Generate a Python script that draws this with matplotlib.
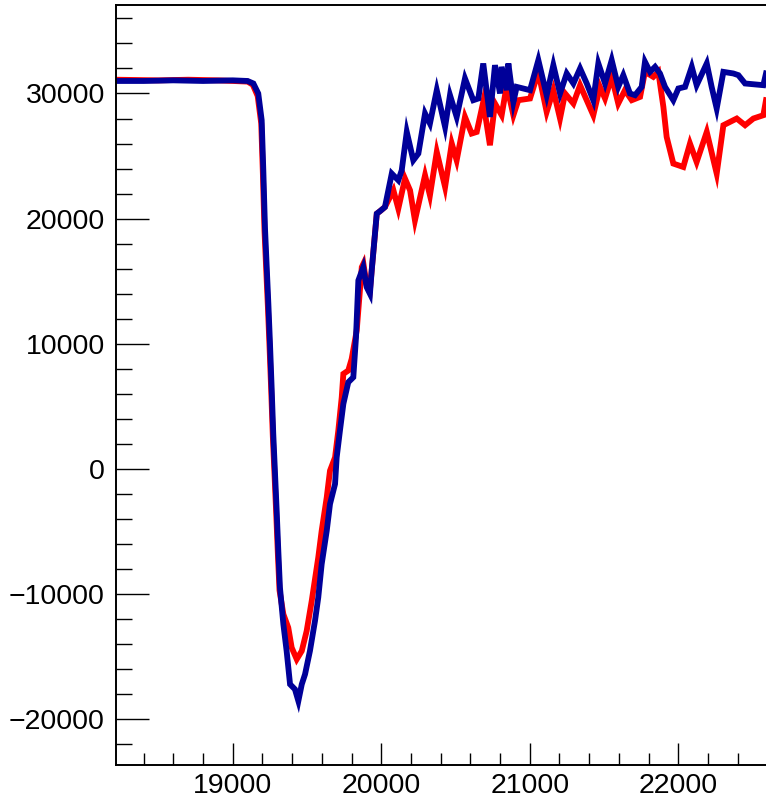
import numpy as np
import matplotlib.pyplot as plt
from matplotlib.ticker import MultipleLocator

plt.rcParams['font.family'] = ['Liberation Sans', 'DejaVu Sans']

# blue trace
x_blue = [18214, 18400, 18600, 18800, 19000, 19100, 19139, 19172, 19195, 19206, 19217, 19229,
          19240, 19251, 19262, 19273, 19285, 19296, 19307, 19318, 19341, 19363, 19386, 19419,
          19442, 19465, 19487, 19520, 19554, 19576, 19599, 19633, 19655, 19689, 19700, 19722,
          19745, 19778, 19812, 19830, 19846, 19879, 19902, 19924, 19936, 19958, 19970, 19992,
          20025, 20071, 20115, 20138, 20172, 20216, 20250, 20295, 20328, 20374, 20430, 20463,
          20508, 20564, 20620, 20654, 20687, 20732, 20766, 20800, 20811, 20845, 20856, 20890,
          20912, 21002, 21058, 21114, 21159, 21204, 21249, 21294, 21339, 21384, 21428, 21462,
          21507, 21552, 21596, 21630, 21675, 21709, 21754, 21776, 21810, 21844, 21877, 21911,
          21967, 22001, 22046, 22091, 22124, 22192, 22225, 22259, 22304, 22371, 22405, 22450,
          22573, 22591]
y_blue = [31000, 31000, 31050, 31000, 31050, 31000, 30800, 30000, 27864, 23864, 19328, 16128,
          13200, 10000, 6528, 2800, -400, -3336, -6536, -9472, -12400, -14536, -17200, -17600,
          -18536, -17200, -16400, -14536, -12136, -10272, -7600, -4936, -2800, -1200, 928, 3064,
          5200, 6928, 7328, 10500, 15064, 16128, 14528, 14000, 15864, 18800, 20400, 20600,
          20928, 23600, 23064, 23864, 26928, 24664, 25200, 28400, 27600, 30264, 27328, 29864,
          28128, 31200, 29464, 29600, 32400, 28128, 32264, 30000, 32128, 30264, 32400, 29328,
          30528, 30264, 32664, 29864, 32264, 30000, 31600, 30800, 32000, 30800, 29464, 32400,
          30800, 32664, 30528, 31464, 30000, 29864, 30528, 32528, 31728, 32128, 31600, 30528,
          29464, 30400, 30528, 32128, 30664, 32400, 30528, 28800, 31728, 31600, 31464, 30800,
          30664, 31600]

# red trace
x_red = [18214, 18500, 18700, 18900, 19100, 19135, 19168, 19192, 19203, 19214, 19226,
         19237, 19248, 19259, 19270, 19282, 19293, 19304, 19315, 19341, 19374, 19397, 19431,
         19465, 19498, 19532, 19576, 19599, 19633, 19655, 19689, 19711, 19734, 19745, 19778,
         19801, 19835, 19869, 19880, 19902, 19924, 19936, 19958, 19970, 19992, 20025, 20082,
         20115, 20160, 20194, 20227, 20295, 20328, 20374, 20430, 20475, 20508, 20564, 20609,
         20643, 20687, 20732, 20766, 20811, 20845, 20890, 20923, 21002, 21058, 21114, 21159,
         21204, 21238, 21294, 21339, 21428, 21473, 21507, 21552, 21596, 21641, 21687, 21743,
         21776, 21832, 21866, 21900, 21922, 21967, 22034, 22079, 22124, 22192, 22259, 22304,
         22394, 22450, 22506, 22573, 22591]
y_red = [31100, 31050, 31100, 31050, 30950, 30700, 29800, 27600, 23600, 19000, 15800,
         12900, 9700, 6300, 2600, -600, -3600, -6800, -9700, -11600, -12672, -14272, -15200,
         -14536, -12936, -10536, -7072, -4936, -2272, -136, 928, 3064, 5728, 7600, 7864,
         8800, 11064, 16128, 16400, 14700, 14300, 15900, 18800, 20400, 20600, 20928, 22264,
         20800, 23200, 22264, 19864, 23464, 21864, 25328, 22528, 26000, 24664, 28128, 26800,
         26928, 29328, 25864, 29200, 28264, 30664, 28264, 29464, 29600, 31728, 28528, 30264,
         28000, 30000, 29200, 30664, 28264, 30528, 29600, 31328, 29200, 30264, 29464, 29728,
         31728, 31328, 31728, 28928, 26528, 24400, 24128, 26000, 24528, 26928, 23600, 27464,
         28000, 27464, 28000, 28264, 29464]

fig = plt.figure(figsize=(7.66, 8.02), dpi=100)
ax = fig.add_axes([116 / 766, 37 / 802, 1 - 116 / 766, 760 / 802])

ax.plot(x_red, y_red, color='#ff0000', lw=4.2, solid_joinstyle='miter')
ax.plot(x_blue, y_blue, color='#000099', lw=4.2, solid_joinstyle='miter')

ax.set_xlim(18214, 22591)
ax.set_ylim(-23650, 37070)

ax.xaxis.set_major_locator(MultipleLocator(1000))
ax.xaxis.set_minor_locator(MultipleLocator(200))
ax.yaxis.set_major_locator(MultipleLocator(10000))
ax.yaxis.set_minor_locator(MultipleLocator(2000))

ax.tick_params(axis='both', which='both', direction='in', width=1.0, colors='black',
               labelsize=20.5)
ax.tick_params(axis='y', which='major', length=23.5, pad=8)
ax.tick_params(axis='y', which='minor', length=11.5)
ax.tick_params(axis='x', which='major', length=16, pad=6)
ax.tick_params(axis='x', which='minor', length=8.5)
ax.tick_params(top=False, right=False)

ax.spines['right'].set_visible(False)
for side in ('left', 'bottom', 'top'):
    ax.spines[side].set_linewidth(1.4)

fig.savefig('out.png', dpi=100)
